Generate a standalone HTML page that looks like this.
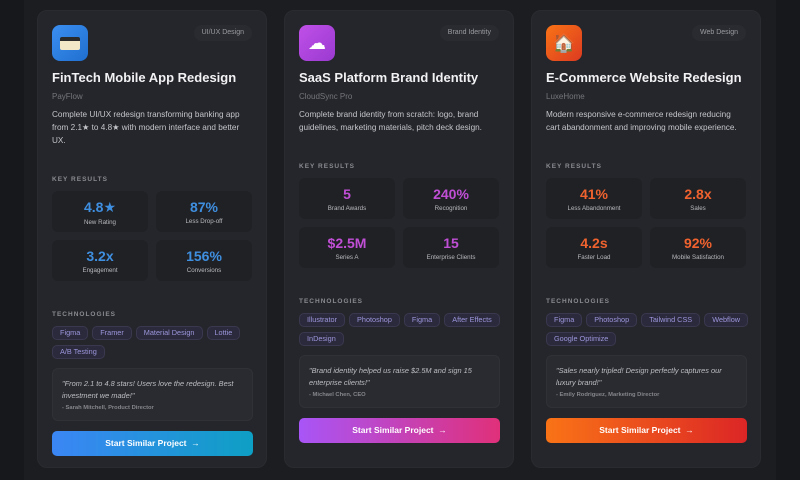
<!DOCTYPE html>
<html><head><meta charset="utf-8"><style>
*{margin:0;padding:0;box-sizing:border-box}
body{width:800px;height:480px;background:#17181b;font-family:"Liberation Sans","DejaVu Sans",sans-serif;position:relative;overflow:hidden}
.panel{position:absolute;left:24px;top:0;width:752px;height:480px;background:#1c1d21}
.card{position:absolute;top:10px;width:230px;height:458px;background:#25262b;border-radius:10px;border:1px solid #2a2b30}
.a{position:absolute}
.icon{left:14px;top:14px;width:36px;height:36px;border-radius:8px;display:flex;align-items:center;justify-content:center;font-size:18px}
.pill{right:14px;top:14px;height:16px;padding:0 8px;border-radius:8px;background:#2a2b30;color:#9a9ba2;font-size:7px;line-height:16px}
.title{left:14px;top:59px;font-size:13px;font-weight:bold;color:#f2f2f4}
.client{left:14px;top:81px;font-size:8px;color:#74757c}
.desc{left:14px;top:97px;width:198px;font-size:8.2px;line-height:13px;color:#c4c5ca}
.lbl{left:14px;font-size:6.5px;letter-spacing:1px;color:#8a8b92;font-weight:bold}
.grid{left:14px;width:201px}
.box{position:absolute;width:96px;height:41px;background:#202125;border-radius:6px;text-align:center}
.box b{display:block;font-size:14px;margin-top:8px}
.box span{display:block;font-size:6.2px;color:#b8b9be;margin-top:3px}
.tags{left:14px;width:205px;display:flex;flex-wrap:wrap;gap:5px 4px}
.tag{height:14px;line-height:12px;padding:0 7px;border-radius:5px;background:#2b2a3c;border:1px solid #39384f;color:#9c96dc;font-size:7.3px}
.quote{left:14px;width:201px;height:53px;background:#2a2b30;border:1px solid #303137;border-radius:6px;padding:9px 9px}
.quote i{display:block;font-size:7.4px;line-height:11.5px;color:#bdbec3}
.quote div{font-size:5.8px;color:#85868c;margin-top:4px;font-weight:bold}
.btn{left:14px;width:201px;height:25px;border-radius:5px;color:#fff;font-size:8.5px;font-weight:bold;text-align:center;line-height:25px}
</style></head><body>
<div class="panel"></div>

<div class="card" style="left:37px">
<div class="a icon" style="background:linear-gradient(135deg,#3b8ff0,#1f6fd0)"><span style="display:block;width:20px;height:13px;background:#f2e8c8;border-radius:2px;border-top:4px solid #2a2a2a;box-sizing:border-box"></span></div>
<div class="a pill">UI/UX Design</div>
<div class="a title">FinTech Mobile App Redesign</div>
<div class="a client">PayFlow</div>
<div class="a desc">Complete UI/UX redesign transforming banking app from 2.1★ to 4.8★ with modern interface and better UX.</div>
<div class="a lbl" style="top:165px">KEY RESULTS</div>
<div class="a grid" style="top:180px">
<div class="box" style="left:0;top:0"><b style="color:#3f8fe0">4.8★</b><span>New Rating</span></div>
<div class="box" style="left:104px;top:0"><b style="color:#3f8fe0">87%</b><span>Less Drop-off</span></div>
<div class="box" style="left:0;top:49px"><b style="color:#3f8fe0">3.2x</b><span>Engagement</span></div>
<div class="box" style="left:104px;top:49px"><b style="color:#3f8fe0">156%</b><span>Conversions</span></div>
</div>
<div class="a lbl" style="top:300px">TECHNOLOGIES</div>
<div class="a tags" style="top:315px"><span class="tag">Figma</span><span class="tag">Framer</span><span class="tag">Material Design</span><span class="tag">Lottie</span><span class="tag">A/B Testing</span></div>
<div class="a quote" style="top:357px"><i>"From 2.1 to 4.8 stars! Users love the redesign. Best investment we made!"</i><div>- Sarah Mitchell, Product Director</div></div>
<div class="a btn" style="top:420px;background:linear-gradient(90deg,#3b86f5,#0e9fc4)">Start Similar Project &nbsp;→</div>
</div>

<div class="card" style="left:284px">
<div class="a icon" style="background:linear-gradient(135deg,#c050e8,#9a3ad0)"><span style="color:#fff;font-size:18px">☁</span></div>
<div class="a pill">Brand Identity</div>
<div class="a title">SaaS Platform Brand Identity</div>
<div class="a client">CloudSync Pro</div>
<div class="a desc">Complete brand identity from scratch: logo, brand guidelines, marketing materials, pitch deck design.</div>
<div class="a lbl" style="top:152px">KEY RESULTS</div>
<div class="a grid" style="top:167px">
<div class="box" style="left:0;top:0"><b style="color:#c14fd6">5</b><span>Brand Awards</span></div>
<div class="box" style="left:104px;top:0"><b style="color:#c14fd6">240%</b><span>Recognition</span></div>
<div class="box" style="left:0;top:49px"><b style="color:#c14fd6">$2.5M</b><span>Series A</span></div>
<div class="box" style="left:104px;top:49px"><b style="color:#c14fd6">15</b><span>Enterprise Clients</span></div>
</div>
<div class="a lbl" style="top:287px">TECHNOLOGIES</div>
<div class="a tags" style="top:302px"><span class="tag">Illustrator</span><span class="tag">Photoshop</span><span class="tag">Figma</span><span class="tag">After Effects</span><span class="tag">InDesign</span></div>
<div class="a quote" style="top:344px"><i>"Brand identity helped us raise $2.5M and sign 15 enterprise clients!"</i><div>- Michael Chen, CEO</div></div>
<div class="a btn" style="top:407px;background:linear-gradient(90deg,#a855f7,#e0307a)">Start Similar Project &nbsp;→</div>
</div>

<div class="card" style="left:531px">
<div class="a icon" style="background:linear-gradient(135deg,#f97316,#dc3a20)"><span style="font-size:18px">🏠</span></div>
<div class="a pill">Web Design</div>
<div class="a title">E-Commerce Website Redesign</div>
<div class="a client">LuxeHome</div>
<div class="a desc">Modern responsive e-commerce redesign reducing cart abandonment and improving mobile experience.</div>
<div class="a lbl" style="top:152px">KEY RESULTS</div>
<div class="a grid" style="top:167px">
<div class="box" style="left:0;top:0"><b style="color:#f0622e">41%</b><span>Less Abandonment</span></div>
<div class="box" style="left:104px;top:0"><b style="color:#f0622e">2.8x</b><span>Sales</span></div>
<div class="box" style="left:0;top:49px"><b style="color:#f0622e">4.2s</b><span>Faster Load</span></div>
<div class="box" style="left:104px;top:49px"><b style="color:#f0622e">92%</b><span>Mobile Satisfaction</span></div>
</div>
<div class="a lbl" style="top:287px">TECHNOLOGIES</div>
<div class="a tags" style="top:302px"><span class="tag">Figma</span><span class="tag">Photoshop</span><span class="tag">Tailwind CSS</span><span class="tag">Webflow</span><span class="tag">Google Optimize</span></div>
<div class="a quote" style="top:344px"><i>"Sales nearly tripled! Design perfectly captures our luxury brand!"</i><div>- Emily Rodriguez, Marketing Director</div></div>
<div class="a btn" style="top:407px;background:linear-gradient(90deg,#f97316,#dc2626)">Start Similar Project &nbsp;→</div>
</div>
</body></html>
